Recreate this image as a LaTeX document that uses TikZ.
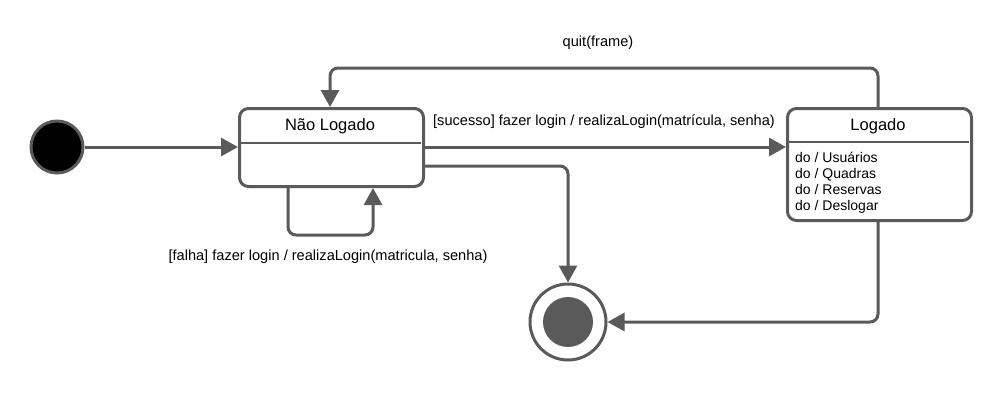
\documentclass[tikz,border=0pt]{standalone}
\usepackage{fontspec}
\setmainfont{Liberation Sans}
\usetikzlibrary{arrows.meta}
\definecolor{lg}{HTML}{5A5A5A}
\begin{document}
\begin{tikzpicture}[x=1pt,y=-1pt,
  conn/.style={draw=lg,line width=3pt,rounded corners=8pt,-{Triangle[length=17pt,width=18pt]}},
  statebox/.style={draw=lg,line width=3pt,rounded corners=9pt,fill=white,inner sep=0pt},
  lbl/.style={font=\fontsize{14.6}{17}\selectfont,text=black,inner sep=0pt},
  title/.style={font=\fontsize{16.5}{19}\selectfont,text=black,inner sep=0pt}]
\fill[white] (0,0) rectangle (1000,400);
\useasboundingbox (0,0) rectangle (1000,400);
% initial
\node[circle,draw=lg,line width=3pt,fill=black,minimum size=52pt,inner sep=0pt] (init) at (57,147) {};
% states
\node[statebox,minimum width=184pt,minimum height=78pt,anchor=north west] (nl) at (238,107) {};
\draw[lg,line width=2pt] (239.5,143) -- (420.5,143);
\node[title] (nlt) at (330,126) {Não Logado};
\node[statebox,minimum width=184pt,minimum height=112pt,anchor=north west] (lo) at (786,107) {};
\draw[lg,line width=2pt] (787.5,142) -- (968.5,142);
\node[title] (lot) at (878,126) {Logado};
\node[lbl,anchor=north west,align=left,font=\fontsize{14}{16}\selectfont] (lod) at (795,152) {do / Usuários\\do / Quadras\\do / Reservas\\do / Deslogar};
% final
\node[circle,draw=lg,line width=3pt,fill=white,minimum size=76pt,inner sep=0pt] (fin) at (568,322) {};
\node[circle,fill=lg,minimum size=50pt,inner sep=0pt] (fini) at (568,322) {};
% connectors
\coordinate (nlr1) at (nl.east |- 0,147);
\coordinate (lol) at (lo.west |- 0,147);
\draw[conn] (init) -- (nl.west |- init);
\draw[conn] (nlr1) -- (lol);
\node[lbl] (l1) at (604,122) {[sucesso] fazer login / realizaLogin(matrícula, senha)};
\coordinate (nlr2) at (nl.east |- 0,166);
\draw[conn] (nlr2) -- (568,166) -- (fin.north);
\draw[conn] (lo.south -| 878,0) -- (878,322) -- (fin.east);
\draw[conn] (lo.north -| 878,0) -- (878,68) -- (330,68) -- (nl.north -| 330,0);
\node[lbl] (l2) at (598,43) {quit(frame)};
\draw[conn] (nl.south -| 288,0) -- (288,235) -- (373,235) -- (nl.south -| 373,0);
\node[lbl] (l3) at (328,257) {[falha] fazer login / realizaLogin(matricula, senha)};
\end{tikzpicture}
\end{document}
